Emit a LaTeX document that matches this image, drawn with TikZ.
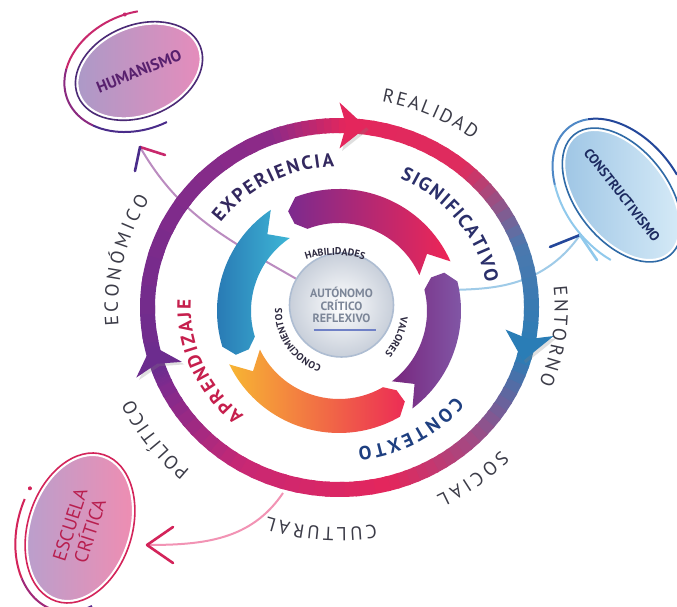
\documentclass[tikz,border=0pt]{standalone}
\usepackage{fontspec}
\setmainfont{PT Sans}
\usetikzlibrary{shapes.geometric, decorations.text, shadows}
\pgfdeclarelayer{back}
\pgfsetlayers{back,main}

% anillo
\definecolor{ringA}{HTML}{6C2C8E}
\definecolor{ringB}{HTML}{8E2A88}
\definecolor{ringC}{HTML}{E4265C}
\definecolor{ringD}{HTML}{DE2C5E}
\definecolor{ringE}{HTML}{4C78AE}
\definecolor{ringF}{HTML}{2A7DB6}
\definecolor{ringG}{HTML}{9E4C86}
\definecolor{ringH}{HTML}{E4265C}
\definecolor{ringI}{HTML}{C82874}
\definecolor{ringJ}{HTML}{7E2A8E}
% flechas interiores
\definecolor{purpL}{HTML}{78267E}
\definecolor{purpR}{HTML}{825CAA}
\definecolor{magL}{HTML}{7C2A8E}
\definecolor{magR}{HTML}{EE2656}
\definecolor{blueL}{HTML}{2672B0}
\definecolor{blueR}{HTML}{3EB6D6}
\definecolor{orngL}{HTML}{F7B533}
\definecolor{orngR}{HTML}{EC2C55}
% textos
\definecolor{expcol}{HTML}{33285F}
\definecolor{sigcol}{HTML}{2A2F6A}
\definecolor{ctxcol}{HTML}{1E3F80}
\definecolor{aprcol}{HTML}{C61F4D}
\definecolor{wordgrey}{HTML}{3C3C48}
\definecolor{innertext}{HTML}{2E2A40}
\definecolor{coretext}{HTML}{7C8698}
\definecolor{coreedge}{HTML}{AEBDD2}
\definecolor{coregrey}{HTML}{C8CFDA}
\definecolor{coreline}{HTML}{6F80C6}
% burbujas
\definecolor{humL}{HTML}{A99AC8}
\definecolor{humR}{HTML}{E88CBB}
\definecolor{humtext}{HTML}{58206E}
\definecolor{humedge}{HTML}{4B2A76}
\definecolor{humA}{HTML}{C8286C}
\definecolor{humB}{HTML}{8A2A80}
\definecolor{humC}{HTML}{4A2C8A}
\definecolor{humlink}{HTML}{BB8CC0}
\definecolor{consL}{HTML}{9CC4E4}
\definecolor{consR}{HTML}{D8ECF8}
\definecolor{constext}{HTML}{1C2A60}
\definecolor{consedge}{HTML}{2F6AA6}
\definecolor{consA}{HTML}{24479A}
\definecolor{consB}{HTML}{4F88C6}
\definecolor{consC}{HTML}{90C9EC}
\definecolor{conslink}{HTML}{9FCBE8}
\definecolor{escL}{HTML}{B7A0CE}
\definecolor{escR}{HTML}{F28CB0}
\definecolor{esctext}{HTML}{B81E4E}
\definecolor{escedge}{HTML}{D3245A}
\definecolor{escB}{HTML}{A02878}
\definecolor{escC}{HTML}{5A2A8C}
\definecolor{esclink}{HTML}{F293B4}

\tikzset{
  ringline/.style={line width=15pt},
  ringtip/.style={drop shadow={opacity=0.25, shadow xshift=2.5pt, shadow yshift=-2.5pt}},
  bandword/.style 2 args={decorate, decoration={text along path, text align={fit to path}, text color=#1, text={|\fontsize{19}{19}\selectfont\bfseries|#2}}},
  outerword/.style={decorate, decoration={text along path, text align={fit to path}, text color=wordgrey, text={|\fontsize{19}{19}\selectfont|#1}}},
  innerword/.style={decorate, decoration={text along path, text align=center, text color=innertext, text={|\fontsize{10}{10}\selectfont\bfseries|#1}}},
  bubble/.style={ellipse, inner sep=0pt, inner xsep=-15pt, align=center},
  link/.style={line width=2pt},
  barb/.style={line width=2.6pt, line cap=round},
}

\begin{document}
\begin{tikzpicture}[x=1pt, y=1pt]
\useasboundingbox (0,0) rectangle (677,607);

% nucleo
\node[circle, minimum size=104pt, inner sep=0pt, inner color=white, outer color=coregrey, draw=coreedge, line width=1.6pt, align=center, text=coretext, font=\fontsize{12}{12.5}\selectfont\bfseries] (core) at (341.5,302) {AUTÓNOMO\\CRÍTICO\\REFLEXIVO};
\draw[coreline, line width=1.3pt] ([shift={(-28,-25)}]core.center) -- ([shift={(34,-25)}]core.center);

% burbujas
\node[bubble, minimum width=128pt, minimum height=88pt, rotate=22, left color=humL, right color=humR, draw=white, line width=2pt, text=humtext, font=\fontsize{16}{16}\selectfont\bfseries] (hum) at (139,536) {HUMANISMO};
\draw[humedge, line width=1.6pt, rotate around={22:(hum.center)}] (hum.center) ellipse[x radius=66, y radius=46];
\begin{scope}[shift={(hum.center)}, rotate=22, line width=2pt]
  \draw[humA] (74:77 and 58) arc[start angle=74, end angle=150, x radius=77, y radius=58];
  \draw[humB] (150:77 and 58) arc[start angle=150, end angle=215, x radius=77, y radius=58];
  \draw[humC] (215:77 and 58) arc[start angle=215, end angle=275, x radius=77, y radius=58];
  \fill[humA] (84:77 and 58) circle (2pt);
\end{scope}

\node[bubble, minimum width=150pt, minimum height=88pt, rotate=-52, left color=consL, right color=consR, draw=white, line width=2pt, text=constext, font=\fontsize{13.5}{13.5}\selectfont\bfseries] (cons) at (622,412) {CONSTRUCTIVISMO};
\draw[consedge, line width=1.6pt, rotate around={-52:(cons.center)}] (cons.center) ellipse[x radius=77, y radius=46];
\begin{scope}[shift={(cons.center)}, rotate=-52, line width=2pt]
  \draw[consA] (78:86 and 57) arc[start angle=78, end angle=160, x radius=86, y radius=57];
  \draw[consB] (160:86 and 57) arc[start angle=160, end angle=235, x radius=86, y radius=57];
  \draw[consC] (235:86 and 57) arc[start angle=235, end angle=301, x radius=86, y radius=57];
  \fill[consA] (70:86 and 57) circle (2pt);
\end{scope}

\node[bubble, minimum width=150pt, minimum height=100pt, rotate=72, left color=escL, right color=escR, draw=white, line width=2pt, text=esctext, font=\fontsize{19}{21}\selectfont] (esc) at (80,79) {ESCUELA\\CRÍTICA};
\draw[escedge, line width=1.6pt, rotate around={72:(esc.center)}] (esc.center) ellipse[x radius=77, y radius=52];
\begin{scope}[shift={(esc.center)}, rotate=72, line width=2pt]
  \draw[escedge] (83:86 and 62) arc[start angle=83, end angle=140, x radius=86, y radius=62];
  \draw[escB] (140:86 and 62) arc[start angle=140, end angle=185, x radius=86, y radius=62];
  \draw[escC] (185:86 and 62) arc[start angle=185, end angle=215, x radius=86, y radius=62];
  \fill[escedge] (75:86 and 62) circle (2pt);
\end{scope}

% conectores
\coordinate (humtip) at (140,460);
\coordinate (constip) at (580,372);
\coordinate (escstart) at (283,114);
\coordinate (esctip) at (147,62);
\begin{pgfonlayer}{back}
\fill[white] (0,0) rectangle (677,607);
\draw[link, humlink] (core) to[out=150, in=-60] (humtip);
\draw[link, conslink, shorten <=48pt] (core) to[out=8, in=235] (constip);
\draw[link, esclink] (escstart) to[out=236, in=0] (esctip);
\end{pgfonlayer}
\draw[barb, humA] (humtip) -- ++(25,-8);
\draw[barb, humC] (humtip) -- ++(-5,-24);
\draw[barb, consA] (constip) -- ++(-30,-12);
\draw[barb, consC] (constip) -- ++(17,-25);
\draw[barb, escedge] (esctip) -- ++(26,18);
\draw[barb, escedge] (esctip) -- ++(26,-18);

% anillo exterior
\begin{scope}[shift={(339.5,299.5)}, xscale=1.055]
\foreach \a/\b/\ca/\cb in {200/110/ringA/ringB, 110/88/ringB/ringC, 88/50/ringC/ringD, 50/20/ringD/ringE, 20/-15/ringE/ringF, -15/-45/ringF/ringG, -45/-75/ringG/ringH, -75/-120/ringH/ringI, -120/-155/ringI/ringJ, -155/-160/ringJ/ringA}
  \foreach \t in {0,...,9}{
    \pgfmathsetmacro\sa{\a+(\b-\a)*\t/10}
    \pgfmathsetmacro\ea{\a+(\b-\a)*(\t+1.3)/10}
    \pgfmathtruncatemacro\p{95-10*\t}
    \draw[ringline, draw=\ca!\p!\cb] (\sa:182) arc[start angle=\sa, end angle=\ea, radius=182];
  }
\fill[ringC, ringtip] (82:182) -- (90:205) -- (88:182) -- (90:159) -- cycle;
\fill[ringF, ringtip] (-17:182) -- (-8:205) -- (-10:182) -- (-8:159) -- cycle;
\fill[ringA, ringtip] (192:182) -- (200:205) -- (198:182) -- (200:159) -- cycle;
%Text
\path[bandword={expcol}{EXPERIENCIA}] (143:141) arc[start angle=143, end angle=92, radius=141];
\path[bandword={sigcol}{SIGNIFICATIVO}] (66:141) arc[start angle=66, end angle=10, radius=141];
\path[bandword={ctxcol}{CONTEXTO}] (-39:141) arc[start angle=-39, end angle=-83, radius=141];
\path[bandword={aprcol}{APRENDIZAJE}] (230:141) arc[start angle=230, end angle=177, radius=141];
\path[outerword=REALIDAD] (79:210) arc[start angle=79, end angle=53, radius=210];
\path[outerword=ENTORNO] (6:204) arc[start angle=6, end angle=-22, radius=204];
\path[outerword=SOCIAL] (-43:209) arc[start angle=-43, end angle=-64, radius=209];
\path[outerword=CULTURAL] (-81:220) arc[start angle=-81, end angle=-108, radius=220];
\path[outerword=POLÍTICO] (-131:216) arc[start angle=-131, end angle=-155, radius=216];
\path[outerword=ECONÓMICO] (185:210) arc[start angle=185, end angle=149, radius=210];
\end{scope}

% ciclo interior
\begin{scope}[shift={(339,296)}]
\foreach \a/\b/\cl/\cr in {-53/14/purpL/purpR, 24/111/magL/magR, 124/197/blueL/blueR, 206/300/orngL/orngR}
  \shade[left color=\cl, right color=\cr] (\a:122) arc[start angle=\a, end angle=\b, radius=122] -- ({\b+6}:112) -- ({\b+6}:98) -- (\b:88) arc[start angle=\b, end angle=\a, radius=88] -- ({\a+9}:105) -- cycle;
\path[innerword=HABILIDADES, shift={(-4,-32)}] (125:88) arc[start angle=125, end angle=55, radius=88];
\path[innerword=VALORES] (10:62) arc[start angle=10, end angle=-58, radius=62];
\path[innerword=CONOCIMIENTOS] (272:57) arc[start angle=272, end angle=158, radius=57];
\end{scope}
\end{tikzpicture}
\end{document}
